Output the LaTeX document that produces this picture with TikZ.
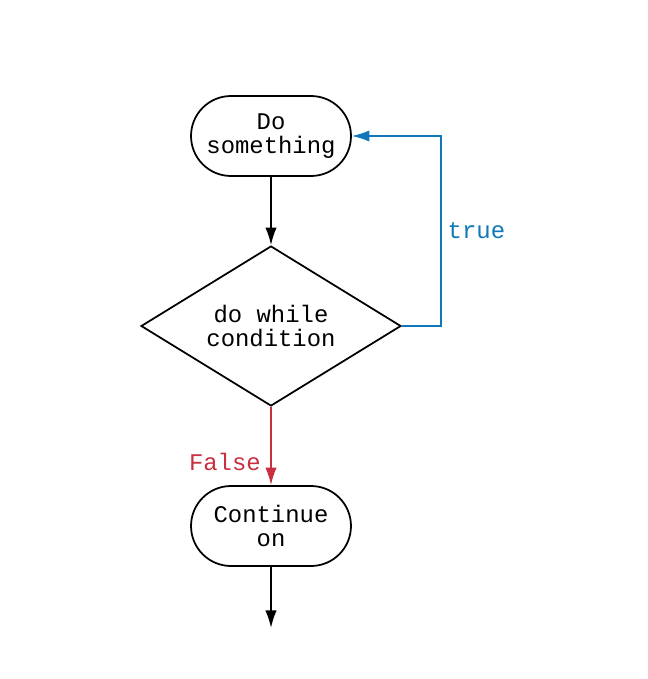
\documentclass[tikz,border=0pt]{standalone}
\usepackage{fontspec}
\setmonofont{Liberation Mono}
\usetikzlibrary{shapes.geometric,arrows.meta}
\definecolor{loopblue}{RGB}{16,120,184}
\definecolor{exitred}{RGB}{200,48,64}
\begin{document}
\begin{tikzpicture}[x=0.02cm, y=-0.02cm,
  terminal/.style={rectangle, draw, rounded corners=0.8cm, minimum width=3.2cm, minimum height=1.6cm, align=center, line width=1pt},
  decision/.style={diamond, draw, aspect=1.625, minimum width=5.2cm, minimum height=3.2cm, inner sep=0pt, align=center, line width=1pt},
  arrow/.style={-{Latex[length=10pt, width=6.5pt]}, line width=1pt},
  every node/.style={font=\fontsize{13.6}{13.6}\selectfont\ttfamily}
]
  \useasboundingbox (0,0) rectangle (648,679);
  \node[terminal] (dosomething) at (271,136) {Do\\something};
  \node[decision] (cond) at (271,326) {do while\\condition};
  \node[terminal] (continue) at (271,526) {Continue\\on};
  \coordinate (out) at (271,628);

  \draw[arrow] (dosomething) -- (cond);
  \draw[arrow, draw=loopblue] (cond.east) -- (441,326) -- node[right, text=loopblue, pos=0.5] {true} (441,136) -- (dosomething.east);
  \draw[arrow, draw=exitred] (cond.south) -- node[left, text=exitred, pos=0.71, xshift=-2pt] {False} (continue.north);
  \draw[arrow] (continue) -- (out);
\end{tikzpicture}
\end{document}
